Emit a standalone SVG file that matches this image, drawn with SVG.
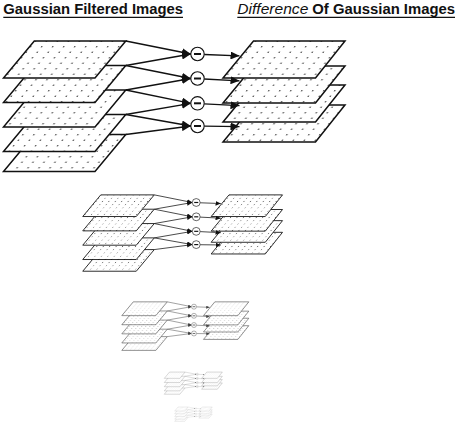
<svg xmlns="http://www.w3.org/2000/svg" xmlns:xlink="http://www.w3.org/1999/xlink" width="458" height="426" viewBox="0 0 458 426">
<defs>
  <style>
    .title { font-family: "Liberation Sans", Arial, sans-serif; font-size: 14px; fill: #111; }
    .b { font-weight: bold; }
    .it { font-style: italic; }
    .ul { stroke: #111; stroke-width: 1.2; }
    .layer { fill: url(#dots); stroke: #111; stroke-width: 1.5; stroke-linejoin: miter; }
    .op { fill: #fff; stroke: #111; stroke-width: 1.1; }
    .minus { stroke: #111; stroke-width: 2; }
    .conn line { stroke: #111; stroke-width: 1.3; marker-end: url(#ah); }
  </style>
  <pattern id="dots" width="11" height="5.5" patternUnits="userSpaceOnUse" patternTransform="skewX(-40)">
    <rect width="11" height="5.5" fill="#fff"/>
    <circle cx="0" cy="0" r="0.7" fill="#222" transform="translate(4,2.75) skewX(40)"/>
  </pattern>
  <marker id="ah" markerUnits="userSpaceOnUse" markerWidth="9" markerHeight="8" refX="9" refY="4" orient="auto" viewBox="0 0 9 8">
    <path d="M0,0 L9,4 L0,8 Z" fill="#111"/>
  </marker>
</defs>

<rect width="458" height="426" fill="#fff"/>

<g id="titles">
  <text class="title b" x="3.3" y="13.8" textLength="179.7" lengthAdjust="spacingAndGlyphs">Gaussian Filtered Images</text>
  <line class="ul" x1="3.3" y1="17.4" x2="183" y2="17.4"/>
  <text class="title it" x="237.3" y="13.8" textLength="71" lengthAdjust="spacingAndGlyphs">Difference</text>
  <text class="title b" x="312.3" y="13.8" textLength="142.7" lengthAdjust="spacingAndGlyphs">Of Gaussian Images</text>
  <line class="ul" x1="237.3" y1="17.4" x2="455" y2="17.4"/>
</g>

<g id="octave1">
  <g id="gaussian">
    <g id="g5"><polygon class="layer" points="34.3,134.5 125.8,134.5 95,171.5 3.5,171.5"/></g>
    <g id="g4"><polygon class="layer" points="34.3,114.5 125.8,114.5 95,151.5 3.5,151.5"/></g>
    <g id="g3"><polygon class="layer" points="34.3,90 125.8,90 95,127 3.5,127"/></g>
    <g id="g2"><polygon class="layer" points="34.3,65.5 125.8,65.5 95,102.5 3.5,102.5"/></g>
    <g id="g1"><polygon class="layer" points="34.3,41 125.8,41 95,78 3.5,78"/></g>
  </g>
  <g id="dog">
    <g id="d4"><polygon class="layer" points="253.5,105 345,105 315.5,142 223,142"/></g>
    <g id="d3"><polygon class="layer" points="253.5,85 345,85 315.5,122 223,122"/></g>
    <g id="d2"><polygon class="layer" points="253.5,66 345,66 315.5,103 223,103"/></g>
    <g id="d1"><polygon class="layer" points="253.5,41 345,41 315.5,78 223,78"/></g>
  </g>
  <g id="connectors" class="conn">
    <line x1="125.8" y1="41" x2="190.8" y2="54"/>
    <line x1="125.8" y1="65.5" x2="190.8" y2="54"/>
    <line x1="125.8" y1="65.5" x2="190.8" y2="78.5"/>
    <line x1="125.8" y1="90" x2="190.8" y2="78.5"/>
    <line x1="125.8" y1="90" x2="190.8" y2="103.3"/>
    <line x1="125.8" y1="114.5" x2="190.8" y2="103.3"/>
    <line x1="125.8" y1="114.5" x2="190.8" y2="126"/>
    <line x1="125.8" y1="134.5" x2="190.8" y2="126"/>
    <line x1="204.2" y1="54.5" x2="239.5" y2="55.8"/>
    <line x1="204.2" y1="79" x2="239.5" y2="80.8"/>
    <line x1="204.2" y1="103.8" x2="239.5" y2="105.6"/>
    <line x1="204.2" y1="126.2" x2="239.5" y2="126.6"/>
  </g>
  <g id="ops">
    <g id="op1"><circle class="op" cx="197.5" cy="54" r="6.7"/><line class="minus" x1="194" y1="54" x2="201" y2="54"/></g>
    <g id="op2"><circle class="op" cx="197.5" cy="78.5" r="6.7"/><line class="minus" x1="194" y1="78.5" x2="201" y2="78.5"/></g>
    <g id="op3"><circle class="op" cx="197.5" cy="103.3" r="6.7"/><line class="minus" x1="194" y1="103.3" x2="201" y2="103.3"/></g>
    <g id="op4"><circle class="op" cx="197.5" cy="126" r="6.7"/><line class="minus" x1="194" y1="126" x2="201" y2="126"/></g>
  </g>
</g>

<g id="octave2" transform="translate(80.7,170.9) scale(0.585)">
  <use xlink:href="#octave1" href="#octave1"/>
</g>
<g id="octave3" transform="translate(120.5,286.6) scale(0.372)" opacity="0.8">
  <use xlink:href="#octave1" href="#octave1"/>
</g>
<g id="octave4" transform="translate(163.7,365.1) scale(0.17)" opacity="0.6">
  <use xlink:href="#octave1" href="#octave1"/>
</g>
<g id="octave5" transform="translate(174.3,402.5) scale(0.11)" opacity="0.45">
  <use xlink:href="#octave1" href="#octave1"/>
</g>
</svg>
